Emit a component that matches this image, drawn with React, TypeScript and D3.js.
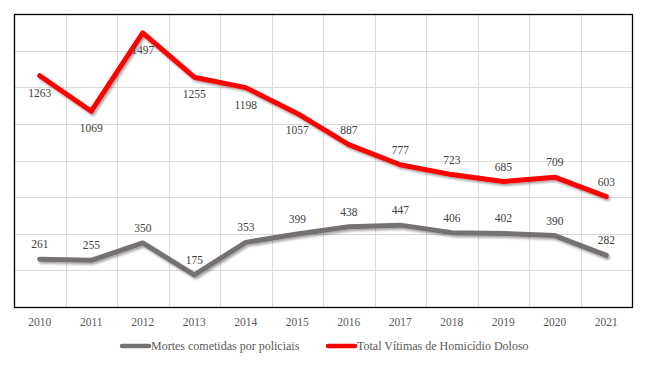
import React from 'react';
import * as d3 from 'd3';

const years = ['2010', '2011', '2012', '2013', '2014', '2015', '2016', '2017', '2018', '2019', '2020', '2021'];
const policeDeaths = [261, 255, 350, 175, 353, 399, 438, 447, 406, 402, 390, 282];
const homicideVictims = [1263, 1069, 1497, 1255, 1198, 1057, 887, 777, 723, 685, 709, 603];
// label placement for the red series: below the point for the first six years
const homicideLabelBelow = [true, true, true, true, true, true, false, false, false, false, false, false];
const yTicks = [0, 200, 400, 600, 800, 1000, 1200, 1400, 1600];

const W = 647;
const H = 366;
const plot = { left: 14, top: 14, right: 632, bottom: 307 };
const FONT = '"Liberation Serif", "Times New Roman", serif';

const App: React.FC = () => {
  const x = d3.scaleBand<string>().domain(years).range([plot.left, plot.right]).padding(0);
  const y = d3.scaleLinear().domain([0, 1600]).range([plot.bottom, plot.top]);
  const cx = (i: number) => (x(years[i]) ?? 0) + x.bandwidth() / 2;

  const line = d3.line<number>()
    .x((_, i) => cx(i))
    .y(d => y(d));

  const boundaries = years.map(yr => x(yr) ?? 0).slice(1);

  return (
    <div style={{ margin: -8 }}>
      <svg width={W} height={H} style={{ display: 'block', background: '#fff' }}>
        <defs>
          <filter id="shadow" x="-10%" y="-30%" width="120%" height="160%">
            <feDropShadow dx="1.5" dy="2" stdDeviation="1.3" floodColor="#000" floodOpacity="0.35" />
          </filter>
        </defs>

        {/* gridlines */}
        <g stroke="#d9d9d9" strokeWidth={1}>
          {yTicks.slice(1, -1).map(t => (
            <line key={t} x1={plot.left} x2={plot.right} y1={Math.round(y(t)) + 0.5} y2={Math.round(y(t)) + 0.5} />
          ))}
          {boundaries.map((bx, i) => (
            <line key={i} x1={Math.round(bx) + 0.5} x2={Math.round(bx) + 0.5} y1={plot.top} y2={plot.bottom} />
          ))}
        </g>

        {/* frame */}
        <rect x={plot.left + 0.5} y={plot.top + 0.5} width={plot.right - plot.left} height={plot.bottom - plot.top}
          fill="none" stroke="#000" strokeWidth={1.3} />

        {/* series */}
        <path d={line(policeDeaths) ?? ''} fill="none" stroke="#767171" strokeWidth={5}
          strokeLinejoin="round" strokeLinecap="round" filter="url(#shadow)" />
        <path d={line(homicideVictims) ?? ''} fill="none" stroke="#ff0000" strokeWidth={5}
          strokeLinejoin="round" strokeLinecap="round" filter="url(#shadow)" />

        {/* data labels */}
        <g fontFamily={FONT} fontSize={11.5} fill="#404040" textAnchor="middle">
          {policeDeaths.map((v, i) => (
            <text key={'p' + i} x={cx(i)} y={y(v) - 15} dy="0.35em">{v}</text>
          ))}
          {homicideVictims.map((v, i) => (
            <text key={'h' + i} x={cx(i)} y={y(v) + (homicideLabelBelow[i] ? 17 : -15)} dy="0.35em">{v}</text>
          ))}
        </g>

        {/* x axis labels */}
        <g fontFamily={FONT} fontSize={11.5} fill="#595959" textAnchor="middle">
          {years.map((yr, i) => (
            <text key={yr} x={cx(i)} y={322} dy="0.35em">{yr}</text>
          ))}
        </g>

        {/* legend */}
        <g fontFamily={FONT} fontSize={12} fill="#595959">
          <line x1={122} x2={149} y1={346} y2={346} stroke="#767171" strokeWidth={4.5} strokeLinecap="round" />
          <text x={151} y={346} dy="0.35em">Mortes cometidas por policiais</text>
          <line x1={328} x2={355} y1={346} y2={346} stroke="#ff0000" strokeWidth={4.5} strokeLinecap="round" />
          <text x={357} y={346} dy="0.35em">Total Vítimas de Homicídio Doloso</text>
        </g>
      </svg>
    </div>
  );
};

export default App;
